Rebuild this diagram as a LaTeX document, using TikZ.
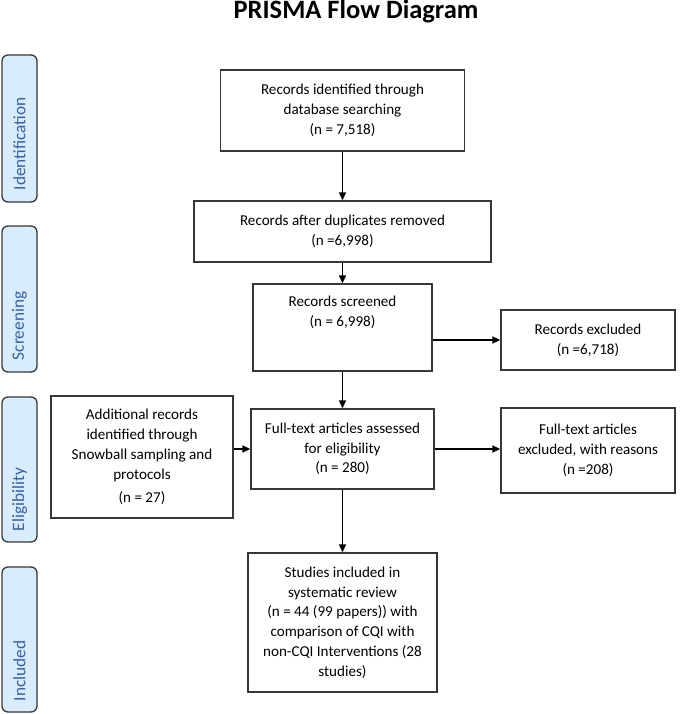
\documentclass[tikz,border=0pt]{standalone}
\usepackage{fontspec}
\setmainfont{Carlito}
\usetikzlibrary{arrows.meta}
\definecolor{phaseBlue}{RGB}{54,95,168}
\definecolor{phaseFill}{RGB}{216,236,251}
\definecolor{boxLine}{RGB}{55,55,55}
\begin{document}
\begin{tikzpicture}[x=1pt, y=-1pt,
    boxStyle/.style={draw=boxLine, line width=1.3pt, align=center, font=\fontsize{15.1}{19.8}\selectfont},
    textStyle/.style={align=center, font=\fontsize{15.1}{19.8}\selectfont},
    phaseStyle/.style={draw=boxLine, line width=1.3pt, fill=phaseFill, rounded corners=6pt, minimum width=35pt},
    phaseText/.style={rotate=90, anchor=west, text=phaseBlue, font=\fontsize{17.3}{20}\selectfont},
    arrowStyle/.style={-{Triangle[length=8pt, width=7pt]}, line width=1.5pt}]
    \useasboundingbox (0,0) rectangle (685,714);

    \node[font=\fontsize{26.5}{30}\selectfont\bfseries, anchor=base](title) at (356, 19) {PRISMA Flow Diagram};

    % phase bars on the left
    \node[phaseStyle, minimum height=147pt](identBar) at (19.5, 128.5) {};
    \node[phaseStyle, minimum height=146pt](screenBar) at (19.5, 299) {};
    \node[phaseStyle, minimum height=145pt](eligBar) at (19.5, 469.5) {};
    \node[phaseStyle, minimum height=145pt](inclBar) at (19.5, 639.5) {};
    \node[phaseText](identLabel) at ([yshift=9pt]identBar.south) {Identification};
    \node[phaseText](screenLabel) at ([yshift=9pt]screenBar.south) {Screening};
    \node[phaseText](eligLabel) at ([yshift=8pt]eligBar.south) {Eligibility};
    \node[phaseText](inclLabel) at ([yshift=8pt]inclBar.south) {Included};

    % flow boxes
    \node[boxStyle, minimum width=244pt, minimum height=81pt](identified) at (342.5, 110.5) {Records identified through\\database searching\\(n = 7,518)};
    \node[boxStyle, minimum width=297pt, minimum height=61pt](deduped) at (342.5, 231.5) {Records after duplicates removed\\(n =6,998)};
    \node[boxStyle, minimum width=179pt, minimum height=87pt](screened) at (342.5, 327.5) {};
    \node[textStyle, anchor=north](screenedText) at ([yshift=-9pt]screened.north) {Records screened\\(n = 6,998)};
    \node[boxStyle, minimum width=174pt, minimum height=60pt](excluded) at (588, 340) {Records excluded\\(n =6,718)};
    \node[boxStyle, minimum width=182pt, minimum height=122pt](snowball) at (142, 457) {Additional records\\identified through\\Snowball sampling and\\protocols\\[4pt](n = 27)};
    \node[boxStyle, minimum width=183pt, minimum height=80pt](fulltext) at (342.5, 449) {Full-text articles assessed\\for eligibility\\(n = 280)};
    \node[boxStyle, minimum width=174pt, minimum height=85pt](ftExcluded) at (588, 450.5) {Full-text articles\\excluded, with reasons\\(n =208)};
    \node[boxStyle, minimum width=189pt, minimum height=139pt](included) at (342.5, 622.5) {Studies included in\\systematic review\\(n = 44 (99 papers)) with\\comparison of CQI with\\non-CQI Interventions (28\\studies)};

    \draw[arrowStyle] (identified) -- (deduped);
    \draw[arrowStyle] (deduped) -- (screened);
    \draw[arrowStyle] (screened) -- (fulltext);
    \draw[arrowStyle] (fulltext) -- (included);
    \draw[arrowStyle] (screened.east |- excluded.west) -- (excluded.west);
    \draw[arrowStyle] (snowball.east |- fulltext.west) -- (fulltext.west);
    \draw[arrowStyle] (fulltext.east) -- (fulltext.east -| ftExcluded.west);
\end{tikzpicture}
\end{document}
